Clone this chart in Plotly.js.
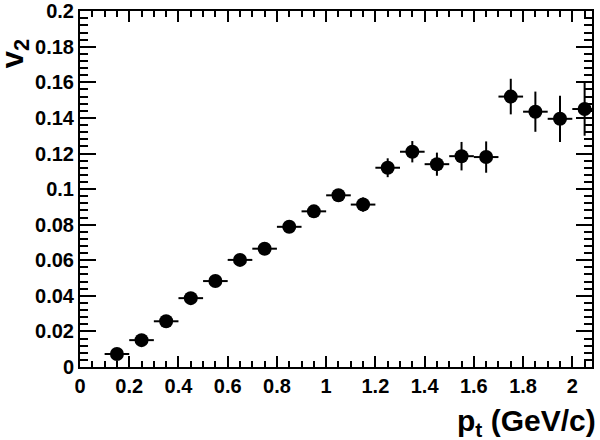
<!DOCTYPE html>
<html>
<head>
<meta charset="utf-8">
<script src="https://cdn.plot.ly/plotly-3.0.1.min.js"></script>
<style>html,body{margin:0;padding:0;background:#fff;}#chart{width:600px;height:440px;}</style>
</head>
<body>
<div id="chart"></div>
<script>
var pt = [0.15,0.25,0.35,0.45,0.55,0.65,0.75,0.85,0.95,1.05,1.15,1.25,1.35,1.45,1.55,1.65,1.75,1.85,1.95,2.05];
var v2 = [0.0073,0.0151,0.0257,0.0387,0.0483,0.0602,0.0665,0.0788,0.0875,0.0965,0.0913,0.1120,0.1210,0.1140,0.1185,0.1180,0.1520,0.1435,0.1395,0.1450];
var v2err = [0.0010,0.0010,0.0010,0.0010,0.0010,0.0012,0.0012,0.0014,0.0018,0.0030,0.0040,0.0053,0.0060,0.0065,0.0080,0.0088,0.0100,0.0113,0.0130,0.0150];
var ptHalfWidth = [0.05,0.05,0.05,0.05,0.05,0.05,0.05,0.05,0.05,0.05,0.05,0.05,0.05,0.05,0.05,0.05,0.05,0.05,0.05,0.05];
var yTickVals = [0,0.02,0.04,0.06,0.08,0.1,0.12,0.14,0.16,0.18,0.2];
var yTickText = ['0','0.02','0.04','0.06','0.08','0.1','0.12','0.14','0.16','0.18','0.2'];

var trace = {
  x: pt, y: v2, type: 'scatter', mode: 'markers',
  marker: {color: 'black', size: 14, symbol: 'circle'},
  error_y: {type: 'data', array: v2err, visible: true, color: 'black', thickness: 2, width: 0},
  error_x: {type: 'data', array: ptHalfWidth, visible: true, color: 'black', thickness: 2, width: 0},
  showlegend: false, cliponaxis: false
};

var fam = 'Liberation Sans, Arial, sans-serif';
var tickFont = {family: fam, size: 20, weight: 'bold', color: 'black'};
var layout = {
  width: 600, height: 440,
  margin: {l: 80, r: 8, t: 11, b: 73},
  paper_bgcolor: 'white', plot_bgcolor: 'white',
  xaxis: {
    range: [0, 2.08], showgrid: false, zeroline: false,
    showline: true, linecolor: 'black', linewidth: 2, mirror: 'ticks',
    ticks: 'inside', ticklen: 11, tickwidth: 2, tickcolor: 'black',
    tick0: 0, dtick: 0.2, tickfont: tickFont,
    minor: {ticks: 'inside', ticklen: 6, tickwidth: 2, tickcolor: 'black', dtick: 0.05, showgrid: false}
  },
  yaxis: {
    range: [0, 0.2001], showgrid: false, zeroline: false,
    showline: true, linecolor: 'black', linewidth: 2, mirror: 'ticks',
    ticks: 'inside', ticklen: 16, tickwidth: 2, tickcolor: 'black',
    tickmode: 'array', tickvals: yTickVals, ticktext: yTickText,
    tickfont: tickFont, ticklabeloverflow: 'allow',
    minor: {ticks: 'inside', ticklen: 8, tickwidth: 2, tickcolor: 'black', tick0: 0, dtick: 0.004, showgrid: false}
  },
  annotations: [
    {text: 'v<sub>2</sub>', xref: 'paper', yref: 'paper', x: -0.128, y: 0.88,
     xanchor: 'center', yanchor: 'middle', textangle: -90, showarrow: false,
     font: {family: fam, size: 31, weight: 'bold', color: 'black'}},
    {text: 'p<sub>t</sub> (GeV/c)', xref: 'paper', yref: 'paper', x: 1.012, y: -0.155,
     xanchor: 'right', yanchor: 'middle', showarrow: false,
     font: {family: fam, size: 30, weight: 'bold', color: 'black'}}
  ]
};
Plotly.newPlot('chart', [trace], layout, {displayModeBar: false, staticPlot: true});
</script>
</body>
</html>
